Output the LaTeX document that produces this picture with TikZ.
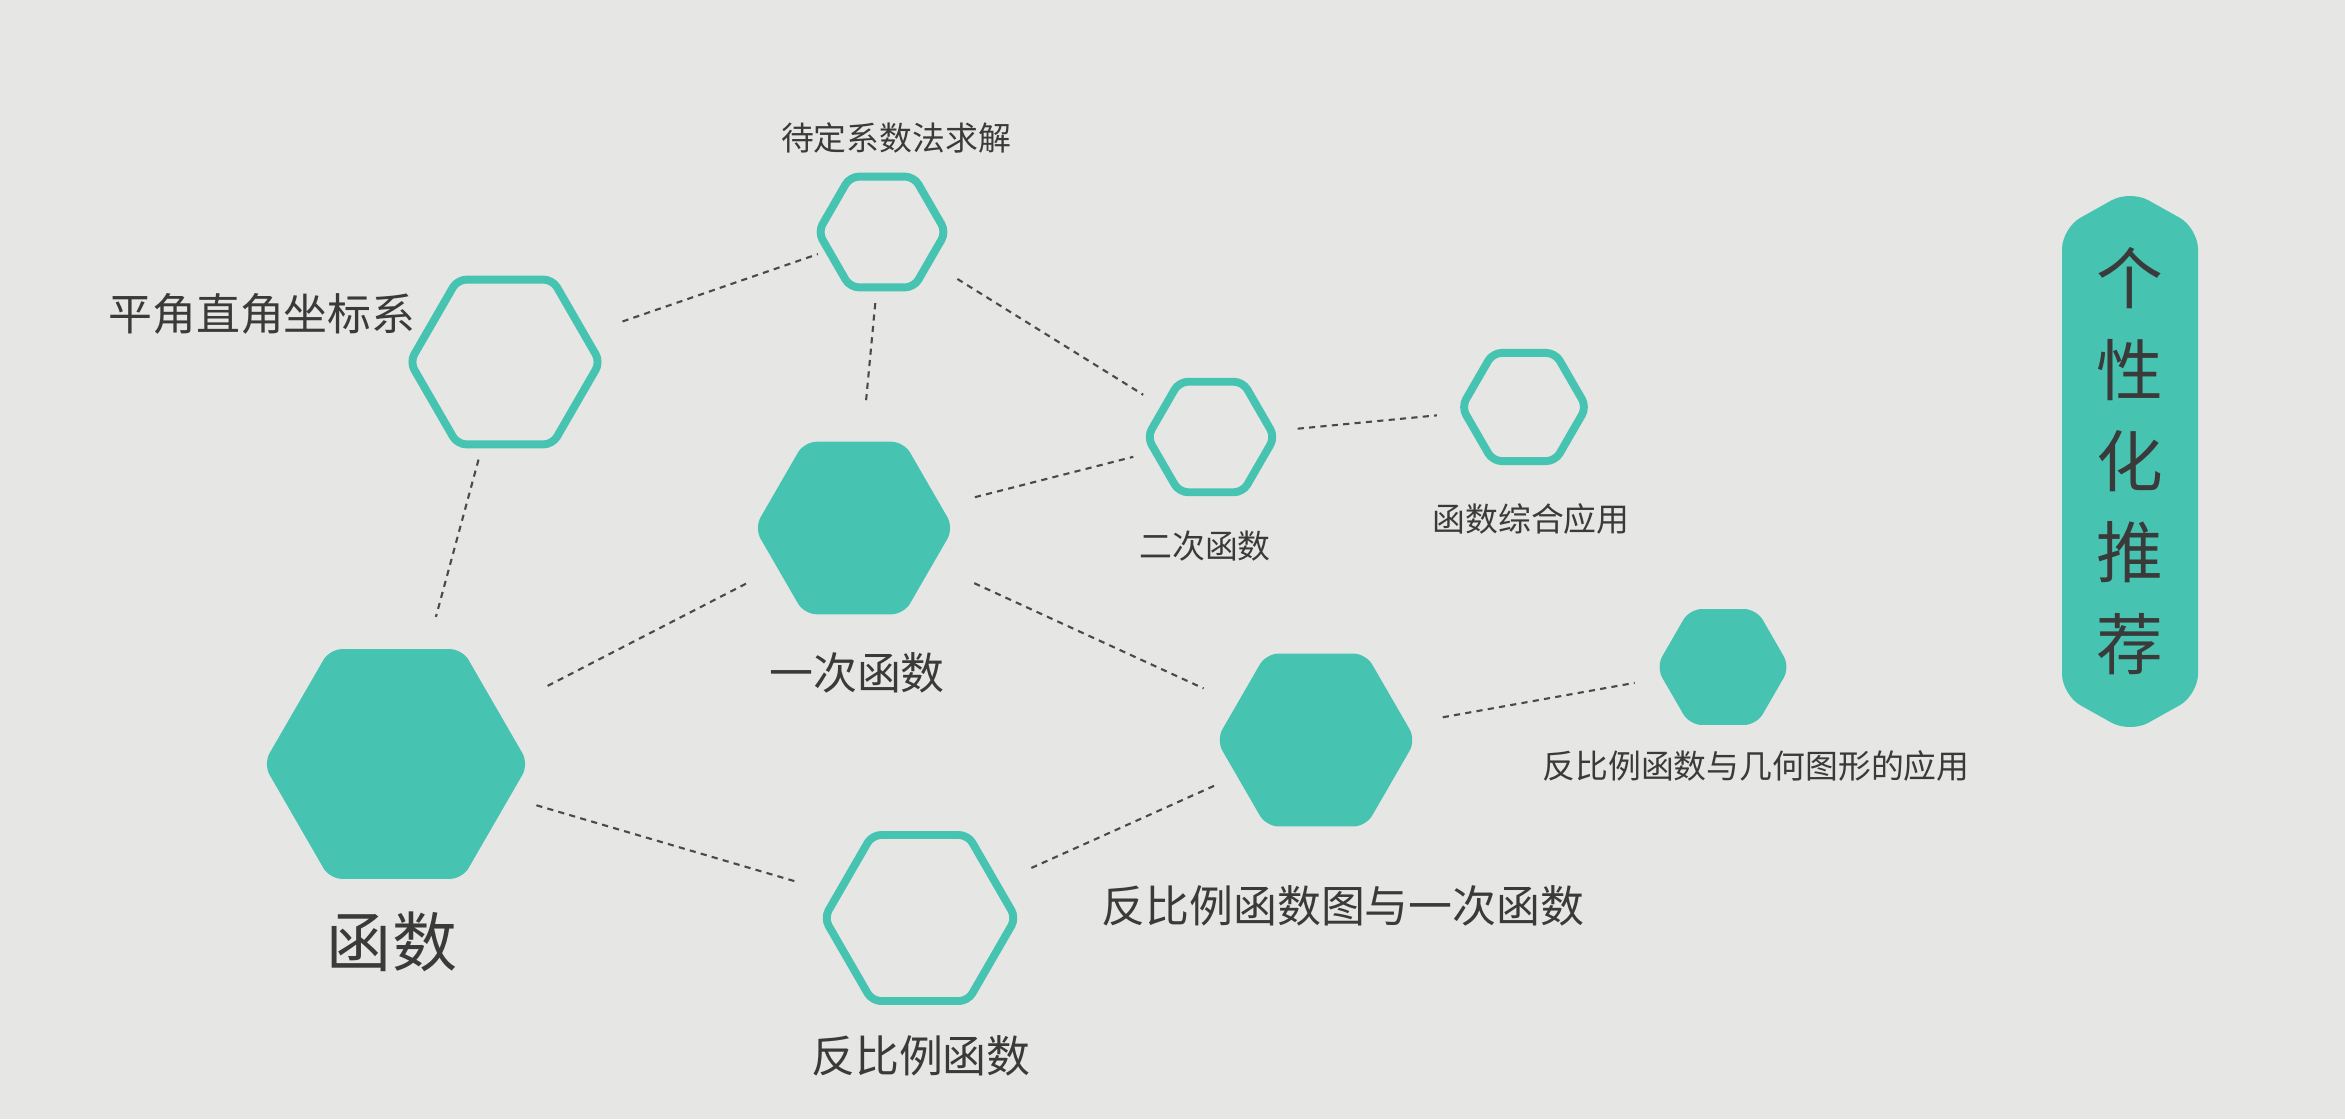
\documentclass[tikz,border=0pt]{standalone}
\usepackage{fontspec}
\newfontfamily\cjk{Noto Sans CJK SC}
\usetikzlibrary{shapes.geometric}
\definecolor{bg}{HTML}{E6E6E4}
\definecolor{tealc}{HTML}{46C4B1}
\definecolor{txt}{HTML}{3A3A3A}
\definecolor{ln}{HTML}{4A4A4A}
\begin{document}
\begin{tikzpicture}[x=0.02cm,y=-0.02cm,
  hexfill/.style={regular polygon,regular polygon sides=6,fill=tealc,draw=none,inner sep=0pt,outer sep=0pt,rounded corners=7pt},
  hexline/.style={regular polygon,regular polygon sides=6,draw=tealc,line width=4.5pt,inner sep=0pt,outer sep=0pt,rounded corners=5pt},
  conn/.style={draw=ln,line width=1.2pt,dash pattern=on 3.5pt off 3pt},
  lbl/.style={font=\cjk\fontsize{25}{30}\selectfont,text=txt,inner sep=0pt},
  lbls/.style={font=\cjk\fontsize{18.7}{22}\selectfont,text=txt,inner sep=0pt}]
\fill[bg] (0,0) rectangle (2345,1119);
\useasboundingbox (0,0) rectangle (2345,1119);
% hexagons
\node[hexline,minimum size=108.3pt] (A) at (505,362) {};
\node[hexline,minimum size=72.8pt] (B) at (882,232) {};
\node[hexfill,minimum size=113.4pt] (C) at (854,528) {};
\node[hexline,minimum size=72.6pt] (D) at (1211,437) {};
\node[hexline,minimum size=71.1pt] (E) at (1524,407) {};
\node[hexfill,minimum size=151pt] (F) at (396,764) {};
\node[hexfill,minimum size=113.6pt] (G) at (1316,740) {};
\node[hexfill,minimum size=76.2pt] (H) at (1723,667) {};
\node[hexline,minimum size=109.1pt] (I) at (920,918) {};
% labels
\node[lbls] (lB) at (896,138) {待定系数法求解};
\node[lbl] (lA) at (262,314) {平角直角坐标系};
\node[lbl] (lC) at (857,673) {一次函数};
\node[lbls] (lD) at (1205,546) {二次函数};
\node[lbls] (lE) at (1531,519) {函数综合应用};
\node[font=\cjk\fontsize{37}{42}\selectfont,text=txt,inner sep=0pt] (lF) at (392,942) {函数};
\node[lbl] (lG) at (1343,906) {反比例函数图与一次函数};
\node[lbls] (lH) at (1756,766) {反比例函数与几何图形的应用};
\node[lbl] (lI) at (921,1056) {反比例函数};
% connectors
\draw[conn,shorten <=23pt,shorten >=6.5pt] (A) -- (B);
\draw[conn,shorten <=9pt,shorten >=22pt] (B) -- (C);
\draw[conn,shorten <=19pt,shorten >=14pt] (B) -- (D);
\draw[conn,shorten <=9pt,shorten >=19pt] (A) -- (F);
\draw[conn,shorten <=20pt,shorten >=13pt] (C) -- (D);
\draw[conn,shorten <=15pt,shorten >=16pt] (D) -- (E);
\draw[conn,shorten <=20pt,shorten >=30pt] (C) -- (F);
\draw[conn,shorten <=26pt,shorten >=21pt] (C) -- (G);
\draw[conn,shorten <=21pt,shorten >=16pt] (G) -- (H);
\draw[conn,shorten <=16pt,shorten >=23pt] (F) -- (I);
\draw[conn,shorten <=22pt,shorten >=11.5pt] (I) -- (G);
% banner
\fill[tealc,rounded corners=12pt] (2130,190) -- (2198,228) -- (2198,695) -- (2130,733) -- (2062,695) -- (2062,228) -- cycle;
\node[font=\cjk\fontsize{38}{52}\selectfont,text=txt,inner sep=0pt,align=center] (rec) at (2130,461) {个\\性\\化\\推\\荐};
\end{tikzpicture}
\end{document}
